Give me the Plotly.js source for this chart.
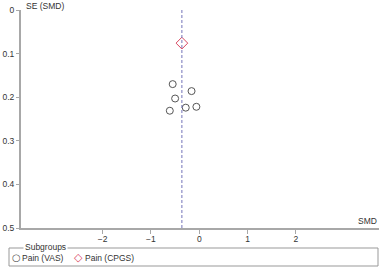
<!DOCTYPE html>
<html>
<head>
<meta charset="utf-8">
<script src="https://cdn.plot.ly/plotly-3.0.1.min.js"></script>
<style>html,body{margin:0;padding:0;background:#fff;}#chart{width:382px;height:271px;}</style>
</head>
<body>
<div id="chart"></div>
<script>
// Data
const vasSMD = [-0.55, -0.16, -0.50, -0.61, -0.28, -0.06];
const vasSE  = [0.170, 0.186, 0.203, 0.231, 0.224, 0.222];
const cpgsSMD = [-0.36];
const cpgsSE  = [0.076];
const pooledSMD = -0.36;
const xTicks = [-2, -1, 0, 1, 2];
const yTicks = [0, 0.1, 0.2, 0.3, 0.4, 0.5];
const seriesNames = ['Pain (VAS)', 'Pain (CPGS)'];
const seriesColors = ['#555555', '#d9455f'];

const fam = 'Liberation Sans, Arial, sans-serif';
const font = {family: fam, size: 8.5, color: '#333'};
const axisCol = '#a8a8a8';

const traces = [
  {x: vasSMD, y: vasSE, name: seriesNames[0], type: 'scatter', mode: 'markers', showlegend: false,
   marker: {symbol: 'circle-open', size: 7, color: seriesColors[0], line: {width: 1, color: seriesColors[0]}}},
  {x: cpgsSMD, y: cpgsSE, name: seriesNames[1], type: 'scatter', mode: 'markers', showlegend: false,
   marker: {symbol: 'diamond-open', size: 9, color: seriesColors[1], line: {width: 1, color: seriesColors[1]}}}
];

const px2x = p => (p - 21) / 358;
const px2y = p => (228 - p) / 218;
const legY = px2y(257.5);

const layout = {
  width: 382, height: 271,
  margin: {l: 21, r: 3, t: 10, b: 43},
  paper_bgcolor: '#fff', plot_bgcolor: '#fff',
  font: font,
  showlegend: false,
  xaxis: {range: [-3.69, 3.72], tickvals: xTicks, ticks: 'outside', ticklen: 4,
          tickcolor: axisCol, tickwidth: 1, showline: true, linecolor: axisCol, linewidth: 2,
          showgrid: false, zeroline: false, tickfont: font, fixedrange: true, ticklabelstandoff: -2},
  yaxis: {range: [0.5, 0], tickvals: yTicks, ticks: 'outside', ticklen: 3,
          tickcolor: axisCol, tickwidth: 1, showline: true, linecolor: axisCol, linewidth: 2,
          showgrid: false, zeroline: false, tickfont: font, tickformat: '.1~f', fixedrange: true},
  shapes: [
    {type: 'line', xref: 'x', yref: 'y', x0: pooledSMD, x1: pooledSMD, y0: 0, y1: 0.5,
     line: {color: '#7474b8', width: 1, dash: '3px,2px'}},
    {type: 'rect', xref: 'paper', yref: 'paper',
     x0: px2x(9), x1: px2x(378), y0: px2y(248), y1: px2y(266),
     line: {color: '#999', width: 1}, fillcolor: 'rgba(0,0,0,0)'}
  ],
  annotations: [
    {text: 'SE (SMD)', xref: 'paper', yref: 'paper', x: px2x(24), y: px2y(6),
     xanchor: 'left', yanchor: 'middle', showarrow: false, font: font},
    {text: 'SMD', xref: 'paper', yref: 'paper', x: 1, y: px2y(221),
     xanchor: 'right', yanchor: 'middle', showarrow: false, font: font},
    {text: 'Subgroups', xref: 'paper', yref: 'paper', x: px2x(23), y: px2y(247),
     xanchor: 'left', yanchor: 'middle', showarrow: false, font: font, bgcolor: '#fff', borderpad: 1},
    {text: '○', xref: 'paper', yref: 'paper', x: px2x(16), y: legY,
     xanchor: 'center', yanchor: 'middle', showarrow: false,
     font: {family: 'DejaVu Sans', size: 10, color: seriesColors[0]}},
    {text: seriesNames[0], xref: 'paper', yref: 'paper', x: px2x(20), y: legY,
     xanchor: 'left', yanchor: 'middle', showarrow: false, font: font},
    {text: '◇', xref: 'paper', yref: 'paper', x: px2x(78), y: legY,
     xanchor: 'center', yanchor: 'middle', showarrow: false,
     font: {family: 'DejaVu Sans', size: 11, color: seriesColors[1]}},
    {text: seriesNames[1], xref: 'paper', yref: 'paper', x: px2x(83), y: legY,
     xanchor: 'left', yanchor: 'middle', showarrow: false, font: font}
  ]
};

Plotly.newPlot('chart', traces, layout, {displayModeBar: false, staticPlot: true});
</script>
</body>
</html>
